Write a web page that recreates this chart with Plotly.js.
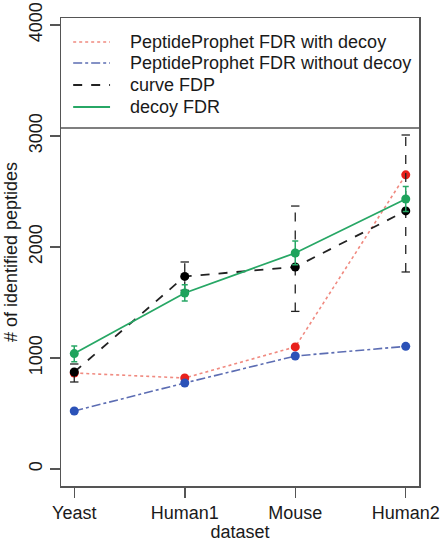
<!DOCTYPE html>
<html>
<head>
<meta charset="utf-8">
<script src="https://cdn.plot.ly/plotly-3.0.1.min.js"></script>
<style>html,body{margin:0;padding:0;background:#fff;}#chart{width:441px;height:542px;}</style>
</head>
<body>
<div id="chart"></div>
<script>
// ---- data ----
const datasets = ["Yeast", "Human1", "Mouse", "Human2"];
const seriesNames = ["PeptideProphet FDR with decoy", "PeptideProphet FDR without decoy", "curve FDP", "decoy FDR"];
const ppWithDecoy = [865, 820, 1100, 2650];
const ppWithoutDecoy = [523, 775, 1018, 1105];
const curveFDP = [874, 1735, 1820, 2325];
const curveFDPLow = [784, 1610, 1420, 1775];
const curveFDPHigh = [946, 1865, 2369, 3009];
const decoyFDR = [1040, 1586, 1946, 2432];
const decoyFDRLow = [966, 1514, 1840, 2320];
const decoyFDRHigh = [1108, 1660, 2054, 2545];
const yTicks = [0, 1000, 2000, 3000, 4000];

const FONT = "Liberation Sans, Arial, Helvetica, sans-serif";
const TXT = "#1a1a1a";

const styles = [
  {line: {color: "#f08a80", dash: "dot", width: 1.6}, mc: "#e8211c"},
  {line: {color: "#5c6db3", dash: "dashdot", width: 1.6}, mc: "#2b52b8"},
  {line: {color: "#222", dash: "dash", width: 1.8}, mc: "#000"},
  {line: {color: "#27a765", dash: "solid", width: 1.8}, mc: "#1ea35c"}
];
const values = [ppWithDecoy, ppWithoutDecoy, curveFDP, decoyFDR];

// dashed error segments for curve FDP
const segX = [], segY = [], capX = [], capY = [];
datasets.forEach((d, i) => {
  segX.push(d, d, null);
  segY.push(curveFDPLow[i], curveFDPHigh[i], null);
  capX.push(d, d);
  capY.push(curveFDPLow[i], curveFDPHigh[i]);
});

const traces = [];
values.forEach((v, k) => {
  if (k === 2) {
    traces.push({
      x: segX, y: segY, mode: "lines", type: "scatter", showlegend: false,
      line: {color: "#222", dash: "dash", width: 1.3}
    });
    traces.push({
      x: capX, y: capY, mode: "markers", type: "scatter", showlegend: false,
      marker: {symbol: "line-ew-open", size: 6, color: "#222", line: {color: "#222", width: 1.3}}
    });
  }
  const t = {
    x: datasets, y: v, name: seriesNames[k], mode: "lines+markers", type: "scatter",
    showlegend: false, line: styles[k].line, marker: {color: styles[k].mc, size: 9}
  };
  if (k === 3) {
    t.error_y = {
      type: "data",
      array: decoyFDRHigh.map((h, i) => h - decoyFDR[i]),
      arrayminus: decoyFDR.map((val, i) => val - decoyFDRLow[i]),
      color: "#27a765", thickness: 1.5, width: 3
    };
  }
  traces.push(t);
});

// legend (drawn in layout, paper coordinates)
const legRows = [0.9487, 0.9038, 0.8568, 0.8098];
const shapes = [
  {type: "line", xref: "paper", yref: "paper", x0: 0, x1: 1, y0: 0.765, y1: 0.765,
   line: {color: "#555", width: 1.5}}
];
const annotations = [];
seriesNames.forEach((n, k) => {
  shapes.push({type: "line", xref: "paper", yref: "paper", x0: 0.034, x1: 0.137,
    y0: legRows[k], y1: legRows[k], line: styles[k].line});
  annotations.push({xref: "paper", yref: "paper", x: 0.187, y: legRows[k],
    xanchor: "left", yanchor: "middle", showarrow: false, text: n,
    font: {family: FONT, size: 18, color: TXT}});
});

const layout = {
  width: 441, height: 542,
  margin: {l: 61, r: 22, t: 18, b: 56},
  paper_bgcolor: "#fff", plot_bgcolor: "#fff",
  font: {family: FONT, size: 18, color: TXT},
  showlegend: false,
  xaxis: {
    type: "category", range: [-0.12, 3.12],
    showgrid: false, zeroline: false,
    showline: true, mirror: true, linecolor: "#555", linewidth: 1.5,
    ticks: "outside", ticklen: 10, tickcolor: "#555", tickwidth: 1.5,
    tickfont: {family: FONT, size: 18, color: TXT},
    title: {text: "dataset", font: {family: FONT, size: 18, color: TXT}, standoff: 2}
  },
  yaxis: {
    range: [-153, 4063],
    tickvals: yTicks, ticktext: yTicks.map(String), tickangle: -90,
    showgrid: false, zeroline: false,
    showline: true, mirror: true, linecolor: "#555", linewidth: 1.5,
    ticks: "outside", ticklen: 10, tickcolor: "#555", tickwidth: 1.5,
    tickfont: {family: FONT, size: 18, color: TXT},
    title: {text: "# of identified peptides", font: {family: FONT, size: 18, color: TXT}, standoff: 4}
  },
  shapes: shapes,
  annotations: annotations
};

Plotly.newPlot("chart", traces, layout, {staticPlot: true, displayModeBar: false});
</script>
</body>
</html>
